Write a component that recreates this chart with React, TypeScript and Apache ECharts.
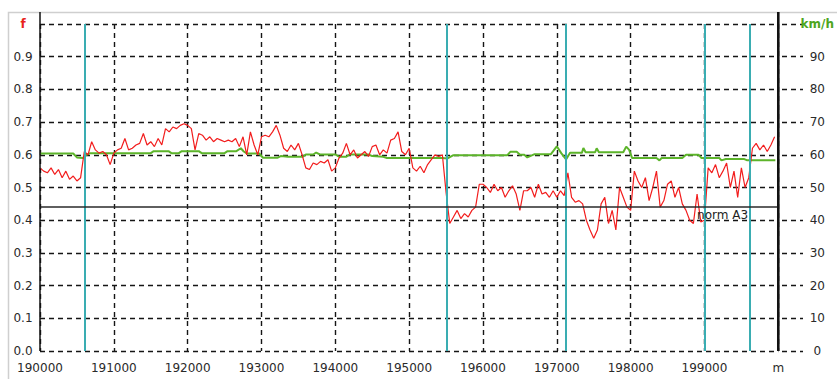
import React, { useEffect, useRef } from 'react';
import * as echarts from 'echarts';

// distance axis (m)
const DIST_START = 190000;
const DIST_END = 200000;
const DIST_STEP = 50;
const xTickLabels = ['190000', '191000', '192000', '193000', '194000', '195000', '196000', '197000', '198000', '199000', 'm'];

// friction coefficient f, one value every 50 m from 190000
const frictionValues = [
  // 190000
  0.56, 0.55, 0.545, 0.56, 0.54, 0.555, 0.53, 0.55, 0.525, 0.535, 0.52, 0.53, 0.61, 0.6, 0.64, 0.615, 0.605, 0.61, 0.6, 0.57,
  // 191000
  0.605, 0.615, 0.62, 0.65, 0.615, 0.62, 0.63, 0.635, 0.665, 0.63, 0.64, 0.625, 0.65, 0.63, 0.68, 0.67, 0.685, 0.68, 0.69, 0.695,
  // 192000
  0.69, 0.68, 0.615, 0.665, 0.66, 0.645, 0.655, 0.64, 0.65, 0.645, 0.64, 0.645, 0.64, 0.65, 0.625, 0.655, 0.6, 0.67, 0.63, 0.6,
  // 193000
  0.655, 0.66, 0.655, 0.67, 0.69, 0.66, 0.62, 0.61, 0.63, 0.615, 0.635, 0.6, 0.56, 0.555, 0.575, 0.57, 0.58, 0.575, 0.585, 0.55,
  // 194000
  0.56, 0.59, 0.605, 0.635, 0.6, 0.615, 0.59, 0.6, 0.61, 0.595, 0.625, 0.63, 0.6, 0.615, 0.605, 0.645, 0.65, 0.67, 0.61, 0.6,
  // 195000
  0.62, 0.56, 0.55, 0.565, 0.545, 0.57, 0.585, 0.6, 0.595, 0.6, 0.485, 0.39, 0.41, 0.43, 0.405, 0.42, 0.41, 0.43, 0.44, 0.51,
  // 196000
  0.51, 0.5, 0.485, 0.51, 0.49, 0.5, 0.47, 0.49, 0.505, 0.48, 0.43, 0.49, 0.49, 0.5, 0.47, 0.51, 0.48, 0.485, 0.47, 0.49,
  // 197000
  0.47, 0.49, 0.475, 0.545, 0.47, 0.455, 0.46, 0.45, 0.4, 0.37, 0.345, 0.37, 0.45, 0.47, 0.39, 0.43, 0.37, 0.5, 0.47, 0.44,
  // 198000
  0.43, 0.55, 0.52, 0.5, 0.53, 0.46, 0.5, 0.55, 0.44, 0.46, 0.51, 0.52, 0.47, 0.5, 0.45, 0.43, 0.4, 0.39, 0.48, 0.395,
  // 199000
  0.4, 0.56, 0.545, 0.57, 0.53, 0.55, 0.575, 0.5, 0.55, 0.47, 0.56, 0.5, 0.53, 0.62, 0.635, 0.615, 0.63, 0.61, 0.63, 0.655,
];

// speed (km/h) breakpoints
const speedDistances = [
  190000, 190450, 190500, 190580, 190630, 190680, 191500, 191540, 191740, 191780, 191880, 191920, 192150, 192190,
  192500, 192540, 192660, 192720, 192760, 192800, 192970, 193020, 193220, 193260, 193360, 193560, 193600, 193700,
  193740, 193790, 194000, 194050, 194150, 194190, 194450, 194500, 194650, 194700, 195450, 195520, 195600, 196330,
  196370, 196460, 196500, 196560, 196600, 196700, 196920, 197000, 197060, 197125, 197180, 197340, 197360, 197390,
  197520, 197540, 197570, 197900, 197940, 197980, 198020, 198350, 198390, 198420, 198700, 198750, 198920, 198960,
  199200, 199230, 199290, 199540, 199580, 199960,
];
const speedValues = [
  60.4, 60.4, 59.2, 59.0, 60.0, 60.5, 60.5, 61.1, 61.1, 60.5, 60.5, 61.1, 61.1, 60.5,
  60.5, 61.1, 61.1, 62.0, 61.0, 60.4, 60.4, 59.1, 59.1, 59.6, 59.4, 59.4, 60.1, 60.1,
  60.7, 60.1, 60.1, 59.4, 59.4, 60.1, 60.1, 59.6, 59.4, 59.0, 59.0, 58.9, 59.9, 59.9,
  60.9, 60.9, 60.0, 60.0, 59.2, 60.2, 60.2, 62.6, 60.5, 58.6, 60.6, 60.6, 62.1, 60.8,
  60.8, 62.0, 60.8, 60.8, 62.5, 61.5, 59.0, 59.0, 58.3, 59.0, 59.0, 60.0, 60.0, 59.0,
  59.0, 58.3, 58.7, 58.7, 58.3, 58.3,
];

// section boundaries (m)
const sectionMarks = [190600, 195510, 197120, 199000, 199610];
const normA3 = 0.44;
const normLabel = 'norm A3';
const normLabelAt = 199245;

const FONT = 'DejaVu Sans';
const GRID_COLOR = '#151515';
const DASH = [5, 4];
const GRID_WIDTH = 1.4;

export default function App() {
  const ref = useRef<HTMLDivElement>(null);

  useEffect(() => {
    document.body.style.margin = '0';
    if (!ref.current) return;
    const chart = echarts.init(ref.current, undefined, { renderer: 'svg' });

    const friction = frictionValues.map((v, i) => [DIST_START + i * DIST_STEP, v]);
    const speed = speedDistances.map((d, i) => [d, speedValues[i]]);

    const option: any = {
      animation: false,
      backgroundColor: '#ffffff',
      grid: [
        { left: 40, right: 55, top: 24, bottom: 28 },
        { left: 782, right: 34, top: 24, bottom: 28 },
      ],
      xAxis: [
        {
          type: 'value',
          gridIndex: 0,
          min: DIST_START,
          max: DIST_END,
          interval: 1000,
          axisLine: { show: false },
          axisTick: { show: false },
          axisLabel: {
            margin: 11,
            fontFamily: FONT,
            fontSize: 12,
            color: '#2a2a2a',
            formatter: (v: number) => xTickLabels[Math.round((v - DIST_START) / 1000)] ?? '',
          },
          splitLine: { show: true, lineStyle: { color: GRID_COLOR, type: DASH, width: GRID_WIDTH } },
        },
        {
          type: 'value',
          gridIndex: 1,
          min: 0,
          max: 1,
          show: false,
        },
      ],
      yAxis: [
        {
          type: 'value',
          gridIndex: 0,
          position: 'left',
          min: 0,
          max: 1,
          interval: 0.1,
          axisLine: { show: false },
          axisTick: { show: false },
          axisLabel: {
            margin: 17,
            align: 'center',
            fontFamily: FONT,
            fontSize: 12,
            color: '#2a2a2a',
            formatter: (v: number) => (v >= 0.999 ? '{f|f}' : v.toFixed(1)),
            rich: { f: { color: '#e8231b', fontFamily: FONT, fontSize: 12, fontWeight: 'bold' } },
          },
          splitLine: { show: true, lineStyle: { color: GRID_COLOR, type: DASH, width: GRID_WIDTH } },
        },
        {
          type: 'value',
          gridIndex: 0,
          position: 'right',
          min: 0,
          max: 100,
          interval: 10,
          axisLine: { show: false },
          axisTick: { show: false },
          axisLabel: {
            margin: 39,
            align: 'center',
            fontFamily: FONT,
            fontSize: 12,
            color: '#2a2a2a',
            formatter: (v: number) => (v >= 99.9 ? '{k|km/h}' : String(v)),
            rich: { k: { color: '#4fa61e', fontFamily: FONT, fontSize: 12, fontWeight: 'bold' } },
          },
          splitLine: { show: false },
        },
        {
          type: 'value',
          gridIndex: 1,
          min: 0,
          max: 1,
          interval: 0.1,
          axisLine: { show: false },
          axisTick: { show: false },
          axisLabel: { show: false },
          splitLine: { show: true, lineStyle: { color: GRID_COLOR, type: DASH, width: GRID_WIDTH } },
        },
      ],
      series: [
        {
          type: 'line',
          name: 'speed',
          xAxisIndex: 0,
          yAxisIndex: 1,
          data: speed,
          showSymbol: false,
          symbol: 'none',
          lineStyle: { color: '#5cb42a', width: 2 },
          z: 3,
        },
        {
          type: 'line',
          name: 'f',
          xAxisIndex: 0,
          yAxisIndex: 0,
          data: friction,
          showSymbol: false,
          symbol: 'none',
          lineStyle: { color: '#f21d1d', width: 1.2 },
          z: 4,
          markLine: {
            silent: true,
            symbol: 'none',
            animation: false,
            label: { show: false },
            data: [
              ...sectionMarks.map((x) => ({
                xAxis: x,
                lineStyle: { color: '#3aadb2', width: 2, type: 'solid' },
              })),
              {
                yAxis: normA3,
                lineStyle: { color: '#2a2a2a', width: 1.5, type: 'solid' },
              },
            ],
          },
          markPoint: {
            silent: true,
            symbol: 'circle',
            symbolSize: 0,
            data: [{ coord: [normLabelAt, normA3] }],
            label: {
              show: true,
              position: 'bottom',
              distance: 2,
              formatter: normLabel,
              fontFamily: FONT,
              fontSize: 12,
              color: '#222',
            },
          },
        },
      ],
    };

    chart.setOption(option);

    const [xl, yb] = chart.convertToPixel({ gridIndex: 0 }, [DIST_START, 0]) as number[];
    const [xr, yt] = chart.convertToPixel({ gridIndex: 0 }, [DIST_END, 1]) as number[];
    const yTopExt = yt - 12;

    chart.setOption({
      graphic: [
        {
          type: 'rect',
          silent: true,
          shape: { x: 8.5, y: 12.5, width: 860, height: 400 },
          style: { fill: 'none', stroke: '#cfcfcf', lineWidth: 1.5 },
          z: 1,
        },
        {
          type: 'line',
          silent: true,
          shape: { x1: xl, y1: yTopExt, x2: xl, y2: yb },
          style: { stroke: '#111', lineWidth: 1.5 },
          z: 10,
        },
        {
          type: 'line',
          silent: true,
          shape: { x1: xr, y1: yTopExt, x2: xr, y2: yb },
          style: { stroke: '#111', lineWidth: 2.6 },
          z: 10,
        },
      ],
    });

    return () => chart.dispose();
  }, []);

  return <div ref={ref} style={{ width: 837, height: 379 }} />;
}
